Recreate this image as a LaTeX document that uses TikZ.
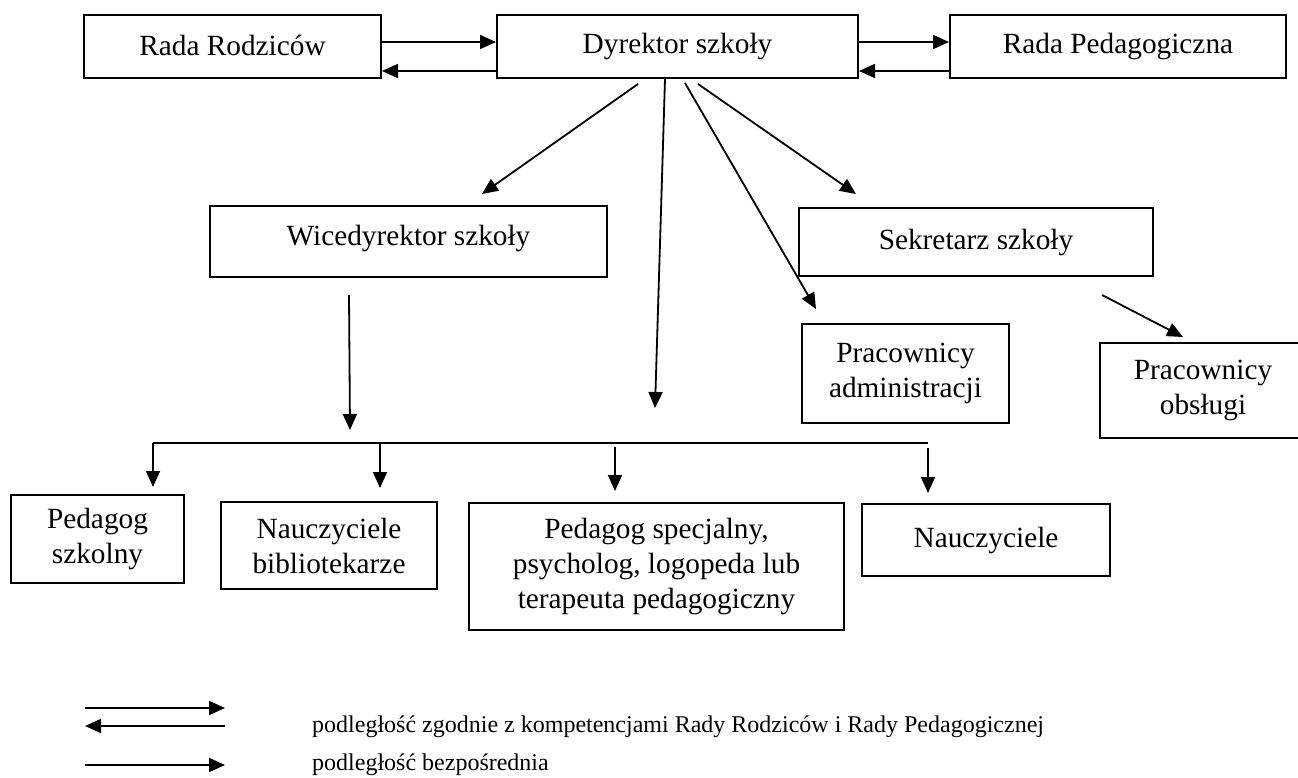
\documentclass[tikz,border=0pt]{standalone}
\usepackage{fontspec}
\setmainfont{Liberation Serif}
\usetikzlibrary{arrows.meta}
\begin{document}
\begin{tikzpicture}[x=1pt,y=-1pt,
  box/.style={draw,line width=2pt,rectangle,inner sep=0pt,align=center,
    font=\fontsize{29.3}{35}\selectfont},
  arr/.style={line width=1.8pt,-{Triangle[length=16pt,width=14pt]}},
  ln/.style={line width=2pt},
  legtext/.style={anchor=west,inner sep=0pt,font=\fontsize{24}{28}\selectfont}]
\useasboundingbox (0,0) rectangle (1298,778);
% top row
\node[box,minimum width=297pt,minimum height=63pt] (rr) at (232.5,46.5) {\raisebox{3pt}{Rada Rodziców}};
\node[box,minimum width=361pt,minimum height=63pt] (dyr) at (677.5,46.5) {\raisebox{6pt}{Dyrektor szkoły}};
\node[box,minimum width=336pt,minimum height=63pt] (rp) at (1118,46.5) {\raisebox{3pt}{Rada Pedagogiczna}};
% middle
\node[box,minimum width=397pt,minimum height=71pt] (wice) at (408.5,241.5) {\raisebox{12pt}{Wicedyrektor szkoły}};
\node[box,minimum width=354pt,minimum height=68pt] (sek) at (976,242) {\raisebox{4pt}{Sekretarz szkoły}};
\node[box,minimum width=207pt,minimum height=99pt] (adm) at (905.5,373.5) {Pracownicy\\administracji};
\node[box,minimum width=206pt,minimum height=95pt] (obs) at (1203,390.5) {Pracownicy\\obsługi};
% bottom
\node[box,minimum width=173pt,minimum height=88pt] (psz) at (97.5,539) {Pedagog\\szkolny};
\node[box,minimum width=216pt,minimum height=87pt] (nb) at (329,545.5) {Nauczyciele\\bibliotekarze};
\node[box,minimum width=375pt,minimum height=127pt] (ps) at (656.5,566.5) {Pedagog specjalny,\\psycholog, logopeda lub\\terapeuta pedagogiczny};
\node[box,minimum width=248pt,minimum height=72pt] (nau) at (986,540) {\raisebox{4pt}{Nauczyciele}};
% top double arrows
\draw[arr] (rr.east |- 0,42) -- (dyr.west |- 0,42);
\draw[arr] (dyr.west |- 0,71) -- (rr.east |- 0,71);
\draw[arr] (dyr.east |- 0,42) -- (rp.west |- 0,42);
\draw[arr] (rp.west |- 0,71) -- (dyr.east |- 0,71);
% free ends below the director
\coordinate (d1) at (638,84);
\coordinate (d2) at (665,79);
\coordinate (d3) at (685,83);
\coordinate (d4) at (698,84);
\coordinate (t1) at (482,194);
\coordinate (t2) at (655,408);
\coordinate (t3) at (816,309);
\coordinate (t4) at (856,194);
\draw[arr] (d1) -- (t1);
\draw[arr] (d2) -- (t2);
\draw[arr] (d3) -- (t3);
\draw[arr] (d4) -- (t4);
% wicedyrektor down
\coordinate (w1) at (349,295);
\coordinate (w2) at (350,430);
\draw[arr] (w1) -- (w2);
% bus
\coordinate (b1) at (153,443);
\coordinate (b2) at (380,443);
\coordinate (b3) at (615,447);
\coordinate (b4) at (928,448);
\coordinate (bR) at (928,443);
\draw[ln] (b1) -- (bR);
\draw[arr] (b1) -- (b1 |- 0,487);
\draw[arr] (b2) -- (b2 |- 0,488);
\draw[arr] (b3) -- (b3 |- 0,491);
\draw[arr] (b4) -- (b4 |- 0,493);
% sekretarz -> obsluga
\coordinate (s1) at (1102,295);
\coordinate (s2) at (1183,337);
\draw[arr] (s1) -- (s2);
% legend
\coordinate (l1a) at (85,708);
\coordinate (l1b) at (225,708);
\coordinate (l2a) at (225,726);
\coordinate (l2b) at (85,726);
\coordinate (l3a) at (85,765);
\coordinate (l3b) at (225,765);
\draw[arr] (l1a) -- (l1b);
\draw[arr] (l2a) -- (l2b);
\draw[arr] (l3a) -- (l3b);
\node[legtext] (lt1) at (312,727) {podległość zgodnie z kompetencjami Rady Rodziców i Rady Pedagogicznej};
\node[legtext] (lt2) at (312,765) {podległość bezpośrednia};
\end{tikzpicture}
\end{document}
